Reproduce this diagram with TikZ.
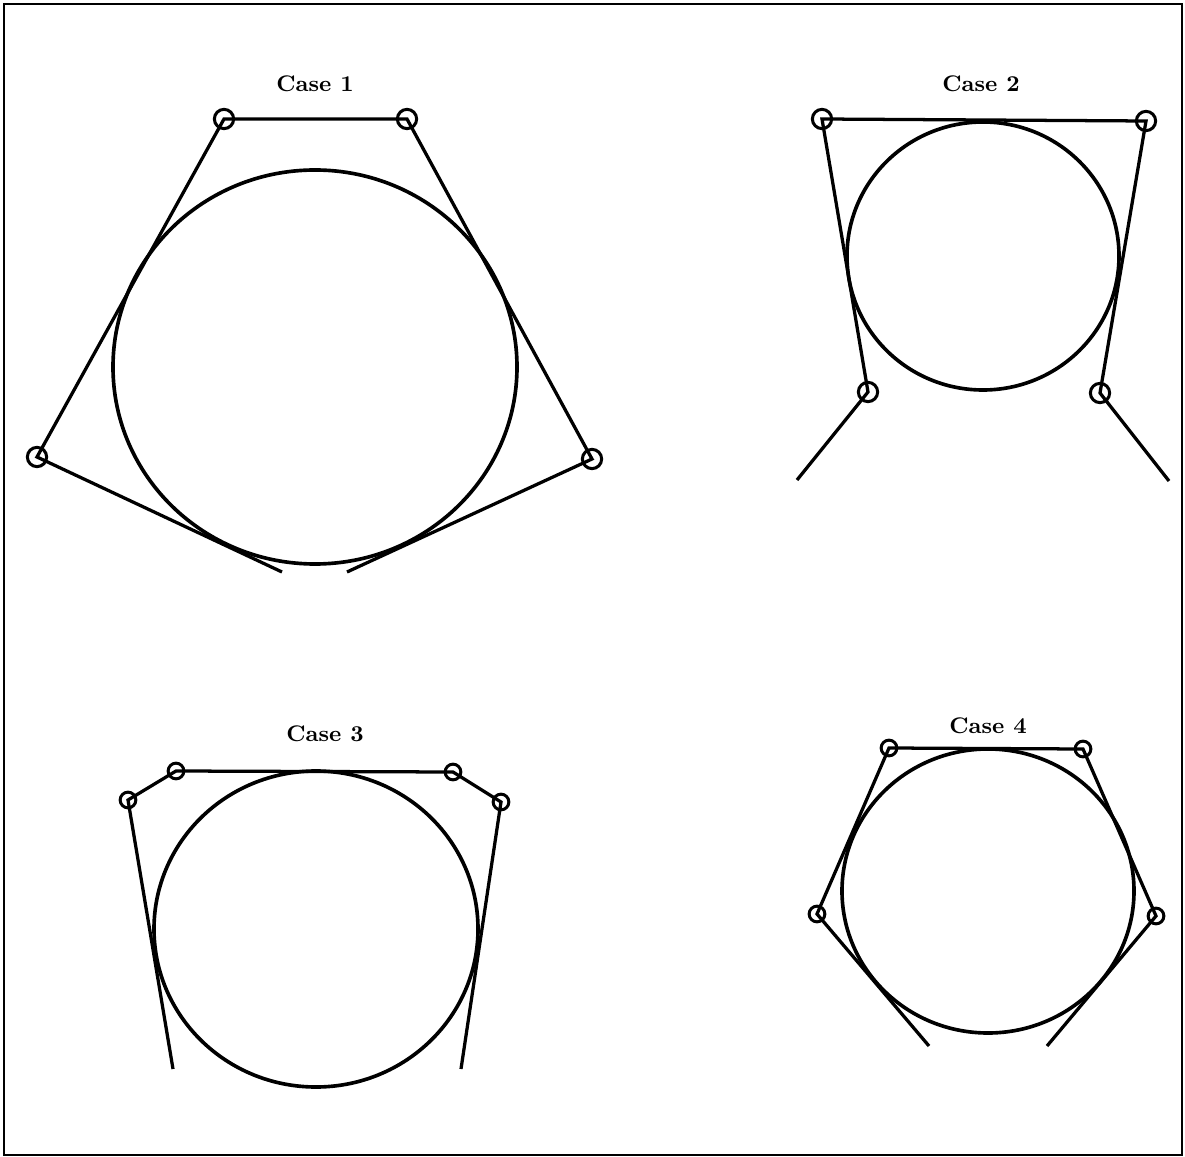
\documentclass[tikz,border=0pt]{standalone}
\usetikzlibrary{positioning}
\tikzset{
  frame/.style={line width=0.8pt},
  rim/.style={line width=1.45pt},
  seg/.style={line width=1.3pt},
  knot/.style={circle, draw, line width=1.2pt, inner sep=0pt, minimum size=0.27cm},
  knotS/.style={knot, minimum size=0.22cm},
  lbl/.style={font=\small\bfseries},
}
\begin{document}
\begin{tikzpicture}[x=0.014cm, y=-0.014cm]
  \useasboundingbox (0,0) rectangle (1185,1157);
  \draw[frame] (4,4) rectangle (1182,1155);

  % Case 1
  \node[lbl] (t1) at (315,84) {Case 1};
  \draw[rim] (315,367) ellipse [x radius=202, y radius=197];
  \node[knot] (a1) at (224,119) {};
  \node[knot] (a2) at (407,119) {};
  \node[knot] (a3) at (37,457) {};
  \node[knot] (a4) at (592,459) {};
  \coordinate (a5) at (282,572);
  \coordinate (a6) at (347,572);
  \draw[seg] (a5) -- (a3.center) -- (a1.center) -- (a2.center) -- (a4.center) -- (a6);

  % Case 2
  \node[lbl] (t2) at (981,84) {Case 2};
  \draw[rim] (983,256) ellipse [x radius=136, y radius=134];
  \node[knot] (b1) at (822,119) {};
  \node[knot] (b2) at (1146,121) {};
  \node[knot] (b3) at (868,392) {};
  \node[knot] (b4) at (1100,393) {};
  \coordinate (b5) at (797,480);
  \coordinate (b6) at (1169,481);
  \draw[seg] (b5) -- (b3.center) -- (b1.center) -- (b2.center) -- (b4.center) -- (b6);

  % Case 3
  \node[lbl] (t3) at (325,734) {Case 3};
  \draw[rim] (316,929) ellipse [x radius=162, y radius=158];
  \node[knotS] (c1) at (176,771) {};
  \node[knotS] (c2) at (453,772) {};
  \node[knotS] (c3) at (128,800) {};
  \node[knotS] (c4) at (501,802) {};
  \coordinate (c5) at (173,1069);
  \coordinate (c6) at (461,1069);
  \draw[seg] (c5) -- (c3.center) -- (c1.center) -- (c2.center) -- (c4.center) -- (c6);

  % Case 4
  \node[lbl] (t4) at (988,726) {Case 4};
  \draw[rim] (988,891) ellipse [x radius=146, y radius=142];
  \node[knotS] (d1) at (889,748) {};
  \node[knotS] (d2) at (1083,749) {};
  \node[knotS] (d3) at (817,914) {};
  \node[knotS] (d4) at (1156,916) {};
  \coordinate (d5) at (929,1046);
  \coordinate (d6) at (1047,1046);
  \draw[seg] (d5) -- (d3.center) -- (d1.center) -- (d2.center) -- (d4.center) -- (d6);
\end{tikzpicture}
\end{document}
